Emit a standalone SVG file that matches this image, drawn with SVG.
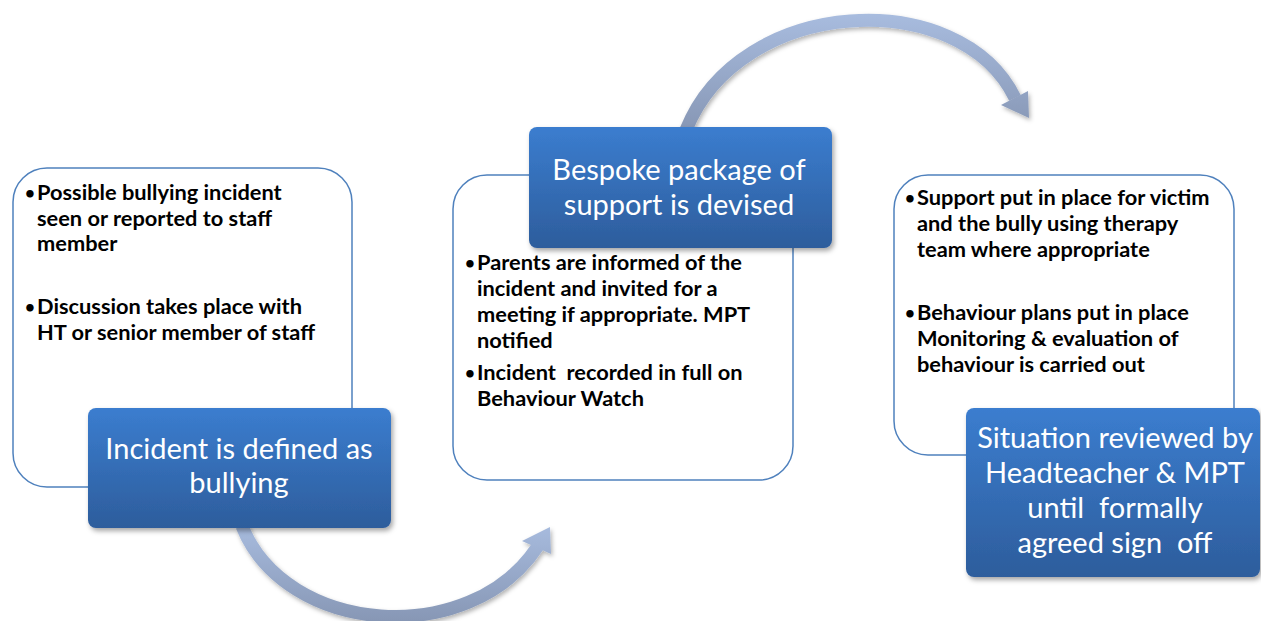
<svg xmlns="http://www.w3.org/2000/svg" width="1261" height="621" viewBox="0 0 1261 621">
<defs>
<linearGradient id="blueG" x1="0" y1="0" x2="0" y2="1">
<stop offset="0" stop-color="#3b7dcf"/>
<stop offset="1" stop-color="#2d5d9c"/>
</linearGradient>
<linearGradient id="arrowBot" gradientUnits="userSpaceOnUse" x1="0" y1="520" x2="0" y2="621">
<stop offset="0" stop-color="#a9bde0"/>
<stop offset="1" stop-color="#8797b5"/>
</linearGradient>
<linearGradient id="arrowTop" gradientUnits="userSpaceOnUse" x1="0" y1="10" x2="0" y2="130">
<stop offset="0" stop-color="#a9bde0"/>
<stop offset="1" stop-color="#8797b5"/>
</linearGradient>
<filter id="shadow" x="-10%" y="-10%" width="130%" height="130%">
<feDropShadow dx="2" dy="3" stdDeviation="2.5" flood-color="#000" flood-opacity="0.35"/>
</filter>
<filter id="ashadow" x="-10%" y="-20%" width="130%" height="140%">
<feDropShadow dx="1.5" dy="2.5" stdDeviation="2" flood-color="#000" flood-opacity="0.3"/>
</filter>
<style>
.panel{fill:#fff;stroke:#4f81bd;stroke-width:1.5}
.label{fill:url(#blueG);filter:url(#shadow)}
.lt{font-family:Lato,"Open Sans",sans-serif;font-size:29px;fill:#fff;text-anchor:middle}
.bt{font-family:Lato,"Open Sans",sans-serif;font-size:21.8px;font-weight:bold;fill:#000}
.bu{font-size:17px}
</style>
</defs>
<rect width="1261" height="621" fill="#fff"/>

<g id="connectors">
<g filter="url(#ashadow)">
<path d="M242,526 C285,635 470,650 538,546" fill="none" stroke="url(#arrowBot)" stroke-width="13"/>
<polygon points="550,527 522,541 551,554" fill="url(#arrowBot)"/>
</g>
<g filter="url(#ashadow)">
<path d="M686,130 C740,-5 960,-15 1015,98" fill="none" stroke="url(#arrowTop)" stroke-width="13"/>
<polygon points="1001,105 1028,91 1029,118" fill="url(#arrowTop)"/>
</g>
</g>

<g id="node1">
<rect class="panel" x="13" y="168" width="339" height="319" rx="34"/>
<text class="bt"><tspan class="bu" x="25" y="199">•</tspan><tspan x="37" y="200">Possible bullying incident</tspan><tspan x="37" y="226">seen or reported to staff</tspan><tspan x="37" y="251">member</tspan><tspan class="bu" x="25" y="313">•</tspan><tspan x="37" y="314">Discussion takes place with</tspan><tspan x="37" y="340">HT or senior member of staff</tspan></text>
</g>
<g id="label1">
<rect class="label" x="88" y="408" width="303" height="120" rx="8"/>
<text class="lt"><tspan x="239" y="459">Incident is defined as</tspan><tspan x="239" y="493">bullying</tspan></text>
</g>

<g id="node2">
<rect class="panel" x="453" y="175" width="340" height="305" rx="34"/>
<text class="bt"><tspan class="bu" x="465" y="269">•</tspan><tspan x="477" y="270">Parents are informed of the</tspan><tspan x="477" y="296">incident and invited for a</tspan><tspan x="477" y="322">meeting if appropriate. MPT</tspan><tspan x="477" y="348">notified</tspan><tspan class="bu" x="465" y="379">•</tspan><tspan x="477" y="380" xml:space="preserve">Incident  recorded in full on</tspan><tspan x="477" y="406">Behaviour Watch</tspan></text>
</g>
<g id="label2">
<rect class="label" x="529" y="127" width="303" height="121" rx="8"/>
<text class="lt"><tspan x="679" y="180">Bespoke package of</tspan><tspan x="679" y="215">support is devised</tspan></text>
</g>

<g id="node3">
<rect class="panel" x="894" y="175" width="340" height="280" rx="34"/>
<text class="bt"><tspan class="bu" x="905" y="204">•</tspan><tspan x="917" y="205">Support put in place for victim</tspan><tspan x="917" y="231">and the bully using therapy</tspan><tspan x="917" y="257">team where appropriate</tspan><tspan class="bu" x="905" y="319">•</tspan><tspan x="917" y="320">Behaviour plans put in place</tspan><tspan x="917" y="346">Monitoring &amp; evaluation of</tspan><tspan x="917" y="372">behaviour is carried out</tspan></text>
</g>
<g id="label3">
<rect class="label" x="966" y="408" width="294" height="169" rx="8"/>
<text class="lt"><tspan x="1115" y="448">Situation reviewed by</tspan><tspan x="1115" y="483">Headteacher &amp; MPT</tspan><tspan x="1115" y="518" xml:space="preserve">until  formally</tspan><tspan x="1115" y="553" xml:space="preserve">agreed sign  off</tspan></text>
</g>
</svg>
